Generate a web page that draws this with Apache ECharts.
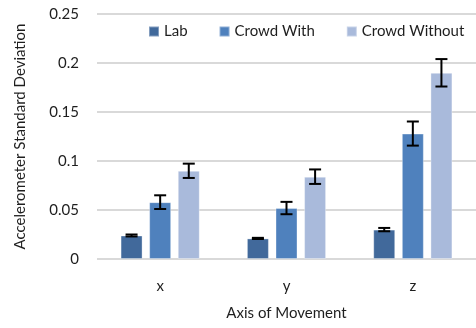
<!DOCTYPE html>
<html>
<head>
<meta charset="utf-8">
<script src="https://cdn.jsdelivr.net/npm/echarts@6/dist/echarts.min.js"></script>
<style>html,body{margin:0;padding:0;background:#fff}#c{width:476px;height:328px}</style>
</head>
<body>
<div id="c"></div>
<script>
const categories = ['x', 'y', 'z'];
const seriesNames = ['Lab', 'Crowd With', 'Crowd Without'];
const labValues = [0.024, 0.021, 0.030];
const crowdWithValues = [0.058, 0.052, 0.128];
const crowdWithoutValues = [0.090, 0.084, 0.190];
const labErrors = [0.001, 0.0006, 0.0017];
const crowdWithErrors = [0.007, 0.0063, 0.0123];
const crowdWithoutErrors = [0.0073, 0.0074, 0.014];
const yTicks = [0, 0.05, 0.1, 0.15, 0.2, 0.25];

const colors = ['#41699b', '#4f81bd', '#a9badb'];
const values = [labValues, crowdWithValues, crowdWithoutValues];
const errors = [labErrors, crowdWithErrors, crowdWithoutErrors];
const BAR_W = 22, BAR_GAP = 0.3;
const font = 'Lato, "Open Sans", sans-serif';
const txt = '#1e1e1e';

const chart = echarts.init(document.getElementById('c'));
const series = [];
values.forEach((vals, i) => {
  series.push({
    name: seriesNames[i], type: 'bar', data: vals,
    barWidth: BAR_W, barGap: (BAR_GAP * 100) + '%',
    itemStyle: { color: colors[i], borderColor: 'rgba(255,255,255,0.35)', borderWidth: 1 },
    z: 2
  });
});
values.forEach((vals, i) => {
  series.push({
    type: 'custom', silent: true, z: 5,
    data: vals.map((v, k) => [k, v - errors[i][k], v + errors[i][k]]),
    renderItem: (params, api) => {
      const k = api.value(0);
      const lo = api.coord([k, api.value(1)]);
      const hi = api.coord([k, api.value(2)]);
      const off = (i - 1) * BAR_W * (1 + BAR_GAP);
      const x = lo[0] + off, hw = 6;
      const st = { stroke: '#000', lineWidth: 2 };
      return { type: 'group', children: [
        { type: 'line', shape: { x1: x, y1: hi[1], x2: x, y2: lo[1] }, style: st },
        { type: 'line', shape: { x1: x - hw, y1: hi[1], x2: x + hw, y2: hi[1] }, style: st },
        { type: 'line', shape: { x1: x - hw, y1: lo[1], x2: x + hw, y2: lo[1] }, style: st }
      ]};
    }
  });
});

chart.setOption({
  animation: false,
  textStyle: { fontFamily: font },
  legend: {
    data: seriesNames, top: 19, left: 143, right: -40, itemWidth: 10, itemHeight: 10, itemGap: 31,
    icon: 'rect', textStyle: { fontSize: 15, color: txt, fontFamily: font }
  },
  grid: { left: 97, right: -8, top: 14, bottom: 69, containLabel: false },
  xAxis: {
    type: 'category', data: categories,
    name: 'Axis of Movement', nameLocation: 'middle', nameGap: 47,
    nameTextStyle: { fontSize: 15, color: txt, fontFamily: font },
    axisLine: { show: false }, axisTick: { show: false },
    axisLabel: { fontSize: 15, color: txt, margin: 20, fontFamily: font }
  },
  yAxis: {
    type: 'value', min: yTicks[0], max: yTicks[yTicks.length - 1], interval: 0.05,
    name: 'Accelerometer Standard Deviation', nameLocation: 'middle', nameGap: 69,
    nameTextStyle: { fontSize: 15, color: txt, fontFamily: font },
    axisLine: { show: false }, axisTick: { show: false },
    axisLabel: { fontSize: 15, color: txt, margin: 18, fontFamily: font },
    splitLine: { lineStyle: { color: '#d9d9d9', width: 2 } }
  },
  series: series
});
</script>
</body>
</html>
